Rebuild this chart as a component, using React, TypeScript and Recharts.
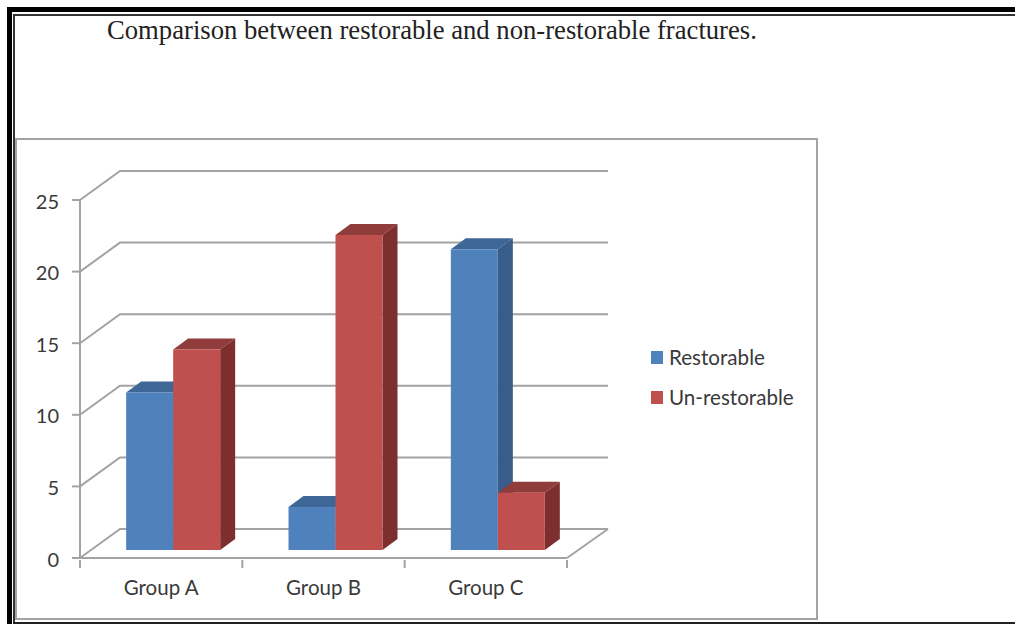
import * as React from 'react';
import { BarChart, Bar, XAxis, YAxis, CartesianGrid, Legend } from 'recharts';

const GROUPS = ['Group A', 'Group B', 'Group C'];
const RESTORABLE = [11, 3, 21];
const UNRESTORABLE = [14, 22, 4];
const Y_TICKS = [0, 5, 10, 15, 20, 25];

const chartData = GROUPS.map((group, i) => ({
  group,
  restorable: RESTORABLE[i],
  unrestorable: UNRESTORABLE[i],
}));

const AXIS_COLOR = '#a3a3a3';
const TEXT_COLOR = '#3a3a3a';
const FONT = 'Lato, "Open Sans", sans-serif';

// fake 3D: the back wall sits up and right of the axes, bars stand on the floor
const WALL_DX = 40;
const WALL_DY = 29;
const BAR_DX = 15;
const BAR_DY = 11;
const BAR_SHIFT_X = 12;
const BAR_SHIFT_Y = 8;

function bar3d(front: string, top: string, side: string) {
  return (props: any) => {
    const x = props.x + BAR_SHIFT_X;
    const y = props.y - BAR_SHIFT_Y;
    const { width: w, height: h } = props;
    return (
      <g>
        <polygon points={`${x},${y} ${x + BAR_DX},${y - BAR_DY} ${x + w + BAR_DX},${y - BAR_DY} ${x + w},${y}`} fill={top} />
        <polygon points={`${x + w},${y} ${x + w + BAR_DX},${y - BAR_DY} ${x + w + BAR_DX},${y + h - BAR_DY} ${x + w},${y + h}`} fill={side} />
        <rect x={x} y={y} width={w} height={h} fill={front} />
      </g>
    );
  };
}

function WallLine(props: any) {
  const { x1, x2, y1 } = props;
  const backY = y1 - WALL_DY;
  const isFloor = y1 > 550;
  return (
    <g stroke={AXIS_COLOR} strokeWidth={2} fill="none">
      <path d={`M${x1},${y1} L${x1 + WALL_DX},${backY} L${x2 + WALL_DX + 1},${backY}`} />
      {isFloor && <path d={`M${x2},${y1} L${x2 + WALL_DX + 1},${backY}`} />}
    </g>
  );
}

function GroupTick(props: any) {
  const { x, y, payload, index } = props;
  const half = 81.17;
  return (
    <g>
      <line x1={x - half} x2={x - half} y1={y - 8} y2={y} stroke={AXIS_COLOR} strokeWidth={2} />
      {index === GROUPS.length - 1 && (
        <line x1={x + half} x2={x + half} y1={y - 8} y2={y} stroke={AXIS_COLOR} strokeWidth={2} />
      )}
      <text x={x} y={y + 27} textAnchor="middle" fontSize={20.5} fontFamily={FONT} fill={TEXT_COLOR}>
        {payload.value}
      </text>
    </g>
  );
}

function LegendList({ payload }: any) {
  return (
    <div style={{ fontFamily: FONT, fontSize: 20.6, color: TEXT_COLOR }}>
      {payload.map((item: any) => (
        <div key={item.value} style={{ display: 'flex', alignItems: 'center', height: 24, marginBottom: 16 }}>
          <span style={{ width: 12, height: 13, background: item.color, marginRight: 6 }} />
          {item.value}
        </div>
      ))}
    </div>
  );
}

export default function App(): React.ReactElement {
  return (
    <div style={{ position: 'absolute', left: 0, top: 0, width: 1015, height: 624, overflow: 'hidden', background: '#fff' }}>
      {/* page border */}
      <div style={{ position: 'absolute', left: 7, top: 7, width: 1008, height: 5, background: '#000' }} />
      <div style={{ position: 'absolute', left: 13, top: 14, width: 1002, height: 2, background: '#333' }} />
      <div style={{ position: 'absolute', left: 7, top: 7, width: 5, height: 617, background: '#000' }} />
      <div style={{ position: 'absolute', left: 13, top: 14, width: 2, height: 610, background: '#333' }} />
      <div style={{ position: 'absolute', left: 13, top: 622, width: 1002, height: 2, background: '#222' }} />

      <div style={{ position: 'absolute', left: 107, top: 15, fontFamily: '"Liberation Serif", serif', fontSize: 26.67, color: '#222', whiteSpace: 'nowrap' }}>
        Comparison between restorable and non-restorable fractures.
      </div>

      {/* chart frame */}
      <div style={{ position: 'absolute', left: 15, top: 138, width: 799, height: 478, border: `2px solid ${AXIS_COLOR}`, boxSizing: 'content-box' }} />

      <div style={{ position: 'absolute', left: 0, top: 0 }}>
        <BarChart
          width={1015}
          height={624}
          data={chartData}
          margin={{ top: 200, right: 288, bottom: 26, left: 20 }}
          barCategoryGap="21.05%"
          barGap={0}
        >
          <CartesianGrid vertical={false} horizontal={(p: any) => <WallLine key={p.key} {...p} />} />
          <XAxis
            dataKey="group"
            height={40}
            interval={0}
            axisLine={{ stroke: AXIS_COLOR, strokeWidth: 2 }}
            tickLine={false}
            tick={(p: any) => <GroupTick {...p} />}
            tickSize={8}
          />
          <YAxis
            width={60}
            domain={[0, 25]}
            ticks={Y_TICKS}
            interval={0}
            axisLine={{ stroke: AXIS_COLOR, strokeWidth: 2 }}
            tickLine={{ stroke: AXIS_COLOR, strokeWidth: 2 }}
            tickSize={8}
            tickMargin={13}
            tick={{ fontSize: 20, fontFamily: FONT, fill: TEXT_COLOR, dy: 1.5 }}
          />
          <Legend
            layout="vertical"
            align="right"
            verticalAlign="middle"
            width={160}
            content={(p: any) => <LegendList {...p} />}
            wrapperStyle={{ left: 651, top: 345, width: 160, bottom: 'auto', right: 'auto' }}
          />
          <Bar
            dataKey="restorable"
            name="Restorable"
            fill="#4F81BD"
            isAnimationActive={false}
            shape={bar3d('#4F81BD', '#3E6797', '#385D8A')}
          />
          <Bar
            dataKey="unrestorable"
            name="Un-restorable"
            fill="#C0504D"
            isAnimationActive={false}
            shape={bar3d('#C0504D', '#8F3C3A', '#7D2F2F')}
          />
        </BarChart>
      </div>
    </div>
  );
}
